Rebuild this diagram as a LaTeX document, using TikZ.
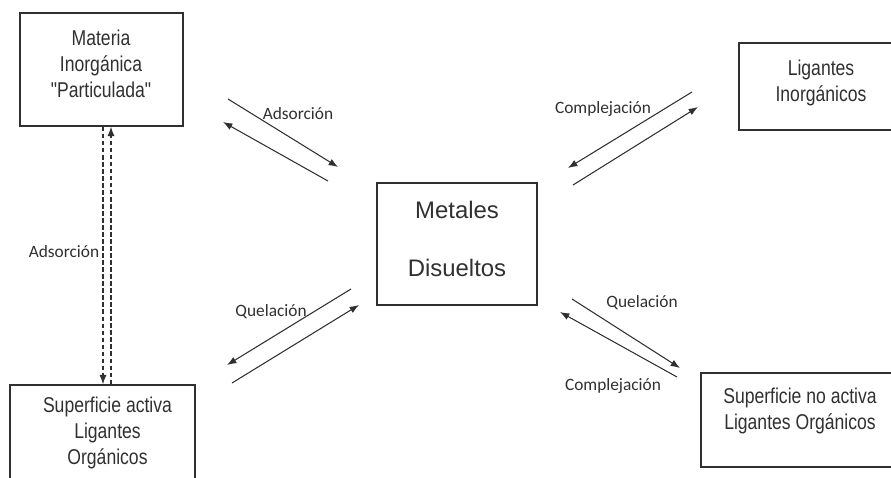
\documentclass[tikz,border=0pt]{standalone}
\usepackage{fontspec}
\setmainfont{Liberation Sans}
\newfontfamily\estrecha[FakeStretch=0.82]{Liberation Sans}
\newfontfamily\calibri{Carlito}
\usetikzlibrary{arrows.meta}
\definecolor{tinta}{HTML}{303030}
\tikzset{
  caja/.style={draw=tinta, line width=1.2pt, inner sep=0pt},
  txtcaja/.style={text=tinta, align=center, font=\estrecha\fontsize{18.3}{22.1}\selectfont},
  reac/.style={->, draw=tinta, line width=0.9pt},
  etiq/.style={text=tinta, font=\calibri\fontsize{14.8}{17}\selectfont, anchor=base, inner sep=0pt},
}
\begin{document}
\begin{tikzpicture}[x=0.03cm, y=-0.03cm, >={Latex[length=8pt,width=6pt]}]
\useasboundingbox (0,0) rectangle (891,478);
\clip (0,0) rectangle (891,478);
% cajas
\node[caja, minimum width=4.89cm, minimum height=3.39cm] (materia) at (101.5,69.5) {};
\node[caja, minimum width=4.98cm, minimum height=2.61cm] (inorg) at (822,86.5) {};
\node[caja, minimum width=4.8cm, minimum height=3.66cm] (metales) at (457,244) {};
\node[caja, minimum width=5.55cm, minimum height=3.3cm] (activa) at (102.5,440) {};
\node[caja, minimum width=5.94cm, minimum height=2.82cm] (noactiva) at (800,420) {};
\node[txtcaja] (materiatxt) at (101,64) {Materia\\Inorgánica\\"Particulada"};
\node[txtcaja] (inorgtxt) at (821,83) {Ligantes\\Inorgánicos};
\node[txtcaja, font=\fontsize{20.4}{50.2}\selectfont] (metalestxt) at (457,239) {Metales\\Disueltos};
\node[txtcaja] (activatxt) at (107.5,433) {Superficie activa\\Ligantes\\Orgánicos};
\node[txtcaja] (noactivatxt) at (800,411) {Superficie no activa\\Ligantes Orgánicos};
% adsorcion vertical
\coordinate (dA) at (103,0);
\coordinate (dB) at (111,0);
\draw[reac, dash pattern=on 4pt off 2pt] (materia.south -| dA) -- (activa.north -| dA);
\draw[reac, dash pattern=on 4pt off 2pt] (activa.north -| dB) -- (materia.south -| dB);
% pares de flechas
\coordinate (ad1) at (228,99);  \coordinate (ad2) at (338,167);
\coordinate (ad3) at (328,181); \coordinate (ad4) at (223,122);
\draw[reac] (ad1) -- (ad2);
\draw[reac] (ad3) -- (ad4);
\coordinate (co1) at (692,92);  \coordinate (co2) at (568,168);
\coordinate (co3) at (573,185); \coordinate (co4) at (698,107);
\draw[reac] (co1) -- (co2);
\draw[reac] (co3) -- (co4);
\coordinate (qu1) at (351,289); \coordinate (qu2) at (227,365);
\coordinate (qu3) at (232,383); \coordinate (qu4) at (359,305);
\draw[reac] (qu1) -- (qu2);
\draw[reac] (qu3) -- (qu4);
\coordinate (qn1) at (572,299); \coordinate (qn2) at (680,368);
\coordinate (qn3) at (677,377); \coordinate (qn4) at (560,312);
\draw[reac] (qn1) -- (qn2);
\draw[reac] (qn3) -- (qn4);
% etiquetas
\node[etiq] (adsA) at (298,120) {Adsorción};
\node[etiq] (comA) at (603,113) {Complejación};
\node[etiq] (queA) at (271,316) {Quelación};
\node[etiq] (adsB) at (64,257) {Adsorción};
\node[etiq] (queB) at (642,307) {Quelación};
\node[etiq] (comB) at (613,390) {Complejación};
\end{tikzpicture}
\end{document}
